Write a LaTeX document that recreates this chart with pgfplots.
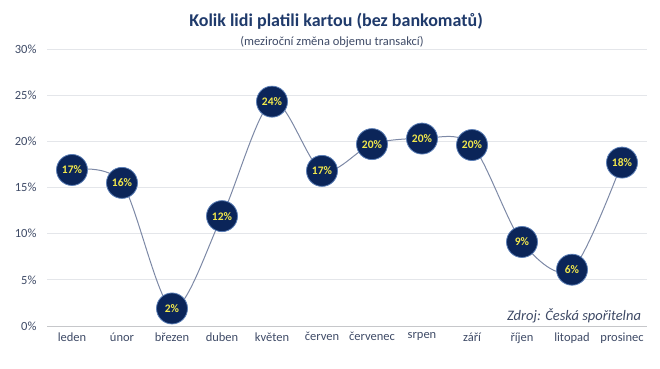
\documentclass[border=0pt]{standalone}
\usepackage{pgfplots}
\pgfplotsset{compat=1.18}
\usepackage{pgfplotstable}
\usepackage{fontspec}
\setmainfont{Carlito}
\definecolor{navy}{HTML}{0B2559}
\definecolor{titlec}{HTML}{1F3A6B}
\definecolor{tickc}{HTML}{3E4A66}
\definecolor{linec}{HTML}{7D89A6}
\definecolor{gridc}{HTML}{E4E6EA}
\definecolor{ringc}{HTML}{5A7DB5}
\definecolor{labc}{HTML}{F2E84B}
\pgfplotstableread{
x y lab
0 16.9 17\%
1 15.5 16\%
2 1.9 2\%
3 11.9 12\%
4 24.3 24\%
5 16.8 17\%
6 19.7 20\%
7 20.3 20\%
8 19.6 20\%
9 9.1 9\%
10 6.1 6\%
11 17.7 18\%
}\datatab
\begin{document}
\begin{tikzpicture}[x=1pt,y=1pt]
\useasboundingbox (0,0) rectangle (660,368);
\node[font=\bfseries\fontsize{18}{21}\selectfont, text=titlec] at (336,347) {Kolik lidi platili kartou (bez bankomatů)};
\node[font=\fontsize{12.5}{14}\selectfont, text=tickc] at (332,326.5) {(meziroční změna objemu transakcí)};
\begin{axis}[
  at={(47pt,42pt)}, anchor=south west,
  scale only axis, width=600pt, height=277pt,
  xmin=-0.5, xmax=11.5, ymin=0, ymax=30,
  xtick={0,...,11},
  xticklabels={leden,únor,březen,duben,květen,červen,červenec,srpen,září,říjen,litopad,prosinec},
  ytick={0,5,...,30},
  yticklabel={\pgfmathprintnumber{\tick}\%},
  /pgf/number format/assume math mode=true,
  tick label style={font=\fontsize{12.5}{14}\selectfont, text=tickc},
  ymajorgrids, grid style={gridc, line width=0.8pt},
  axis line style={draw=none},
  axis x line*=bottom,
  major tick length=0pt,
  xticklabel style={yshift=-3pt},
  yticklabel style={xshift=-7pt},
  clip=false,
]
\draw[gridc!70!gray, line width=0.8pt] (axis cs:-0.5,0) -- (axis cs:11.5,0);
\addplot[smooth, linec, line width=1pt, mark=*, mark size=15.5pt,
  mark options={fill=navy, draw=ringc, line width=0.8pt},
  nodes near coords, point meta=explicit symbolic,
  every node near coord/.style={anchor=center, text=labc, font=\bfseries\fontsize{11.5}{13}\selectfont}]
  table[x=x, y=y, meta=lab]{\datatab};
\node[anchor=east, font=\itshape\fontsize{14.5}{16}\selectfont, text=tickc] at (axis cs:11.45,1.1) {Zdroj: Česká spořitelna};
\end{axis}
\end{tikzpicture}
\end{document}
